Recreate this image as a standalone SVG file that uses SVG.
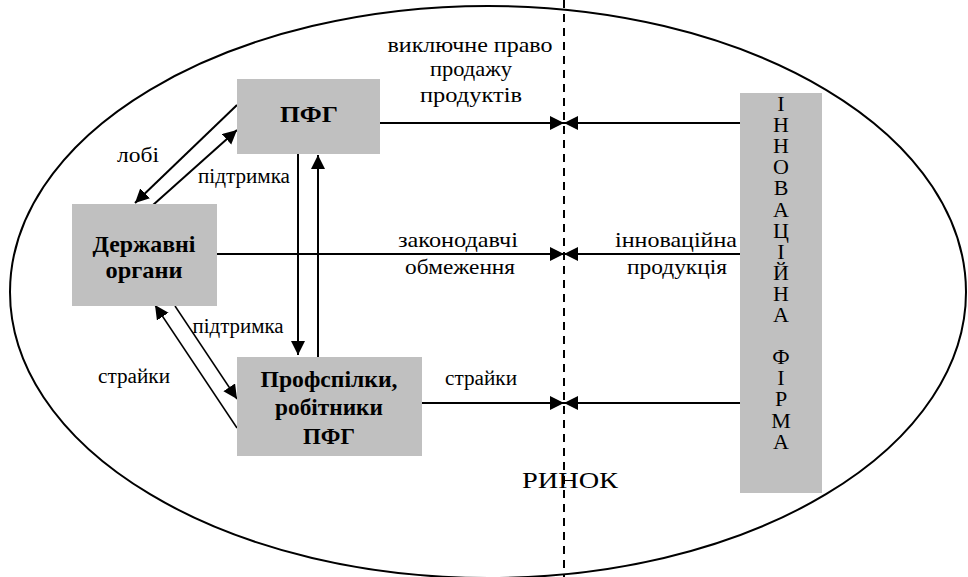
<svg xmlns="http://www.w3.org/2000/svg" width="968" height="577" viewBox="0 0 968 577" font-family="'Liberation Serif', 'Times New Roman', Times, serif">
  <style>
    text { fill: #000; text-anchor: middle; }
    .box { fill: #c0c0c0; }
    .title { font-weight: bold; font-size: 23px; }
    .label { font-size: 20px; }
    .big { font-size: 21px; }
    .vert { font-size: 22px; }
    .edge { stroke: #000; stroke-width: 2; fill: none; }
    .thin { stroke: #000; stroke-width: 1.5; fill: none; }
  </style>
  <defs>
    <marker id="arrow" markerUnits="userSpaceOnUse" markerWidth="15" markerHeight="15" refX="14" refY="7" orient="auto">
      <path d="M0,0 L14,7 L0,14 z" fill="#000"/>
    </marker>
  </defs>

  <rect width="968" height="577" fill="#fff"/>

  <!-- market boundary -->
  <ellipse cx="488" cy="292" rx="478" ry="286" fill="none" stroke="#000" stroke-width="2"/>
  <line x1="564" y1="0" x2="564" y2="577" stroke="#000" stroke-width="2" stroke-dasharray="8,6"/>
  <text x="570" y="488" font-family="Liberation Serif" font-size="24" textLength="96" lengthAdjust="spacingAndGlyphs">РИНОК</text>

  <g id="connectors">
    <!-- ПФГ <-> Державні органи -->
    <line class="edge" x1="237" y1="105" x2="135" y2="203" marker-end="url(#arrow)"/>
    <line class="edge" x1="153" y1="205" x2="237" y2="130" marker-end="url(#arrow)"/>
    <!-- Державні органи <-> Профспілки -->
    <line class="thin" x1="237" y1="428" x2="155" y2="305" marker-end="url(#arrow)"/>
    <line class="thin" x1="175" y1="306" x2="237" y2="399" marker-end="url(#arrow)"/>
    <!-- ПФГ <-> Профспілки -->
    <line class="edge" x1="298" y1="154" x2="298" y2="355" marker-end="url(#arrow)"/>
    <line class="edge" x1="318" y1="357" x2="318" y2="155" marker-end="url(#arrow)"/>
    <!-- flows into the market -->
    <line class="edge" x1="380" y1="123" x2="564" y2="123" marker-end="url(#arrow)"/>
    <line class="edge" x1="740" y1="123" x2="564" y2="123" marker-end="url(#arrow)"/>
    <line class="edge" x1="217" y1="254" x2="564" y2="254" marker-end="url(#arrow)"/>
    <line class="edge" x1="740" y1="254" x2="564" y2="254" marker-end="url(#arrow)"/>
    <line class="edge" x1="422" y1="403" x2="564" y2="403" marker-end="url(#arrow)"/>
    <line class="edge" x1="740" y1="403" x2="564" y2="403" marker-end="url(#arrow)"/>

    <!-- connector labels -->
    <text class="label" x="138" y="162" textLength="42" lengthAdjust="spacingAndGlyphs">лобі</text>
    <text class="label" x="244" y="183" textLength="92" lengthAdjust="spacingAndGlyphs">підтримка</text>
    <text class="label" x="238" y="333" textLength="91" lengthAdjust="spacingAndGlyphs">підтримка</text>
    <text class="label" x="134" y="383" textLength="72" lengthAdjust="spacingAndGlyphs">страйки</text>
    <text class="label" x="481" y="385" textLength="72" lengthAdjust="spacingAndGlyphs">страйки</text>
    <text class="big" x="470" y="52" textLength="165" lengthAdjust="spacingAndGlyphs">виключне право</text>
    <text class="big" x="471" y="76" textLength="82" lengthAdjust="spacingAndGlyphs">продажу</text>
    <text class="big" x="471" y="102" textLength="102" lengthAdjust="spacingAndGlyphs">продуктів</text>
    <text class="big" x="458" y="247" textLength="120" lengthAdjust="spacingAndGlyphs">законодавчі</text>
    <text class="big" x="460" y="274" textLength="110" lengthAdjust="spacingAndGlyphs">обмеження</text>
    <text class="big" x="676" y="247" textLength="122" lengthAdjust="spacingAndGlyphs">інноваційна</text>
    <text class="big" x="677" y="274" textLength="100" lengthAdjust="spacingAndGlyphs">продукція</text>
  </g>

  <g id="pfg">
    <rect class="box" x="237" y="79" width="143" height="75"/>
    <text class="title" x="309" y="122" textLength="58" lengthAdjust="spacingAndGlyphs">ПФГ</text>
  </g>

  <g id="state">
    <rect class="box" x="72" y="204" width="145" height="102"/>
    <text class="title" x="144" y="252" textLength="103" lengthAdjust="spacingAndGlyphs">Державні</text>
    <text class="title" x="144" y="278" textLength="77" lengthAdjust="spacingAndGlyphs">органи</text>
  </g>

  <g id="unions">
    <rect class="box" x="237" y="357" width="185" height="99"/>
    <text class="title" x="329" y="387" textLength="137" lengthAdjust="spacingAndGlyphs">Профспілки,</text>
    <text class="title" x="329" y="415" textLength="108" lengthAdjust="spacingAndGlyphs">робітники</text>
    <text class="title" x="329" y="444" textLength="52" lengthAdjust="spacingAndGlyphs">ПФГ</text>
  </g>

  <g id="firm">
    <rect class="box" x="740" y="93" width="82" height="400"/>
    <!-- name set one letter per line -->
    <text class="vert" x="781" y="111"><tspan x="781">І</tspan><tspan x="781" dy="21.1">Н</tspan><tspan x="781" dy="21.1">Н</tspan><tspan x="781" dy="21.1">О</tspan><tspan x="781" dy="21.1">В</tspan><tspan x="781" dy="21.1">А</tspan><tspan x="781" dy="21.1">Ц</tspan><tspan x="781" dy="21.1">І</tspan><tspan x="781" dy="21.1">Й</tspan><tspan x="781" dy="21.1">Н</tspan><tspan x="781" dy="21.1">А</tspan><tspan x="781" dy="42.2">Ф</tspan><tspan x="781" dy="21.1">І</tspan><tspan x="781" dy="21.1">Р</tspan><tspan x="781" dy="21.1">М</tspan><tspan x="781" dy="21.1">А</tspan></text>
  </g>
</svg>
